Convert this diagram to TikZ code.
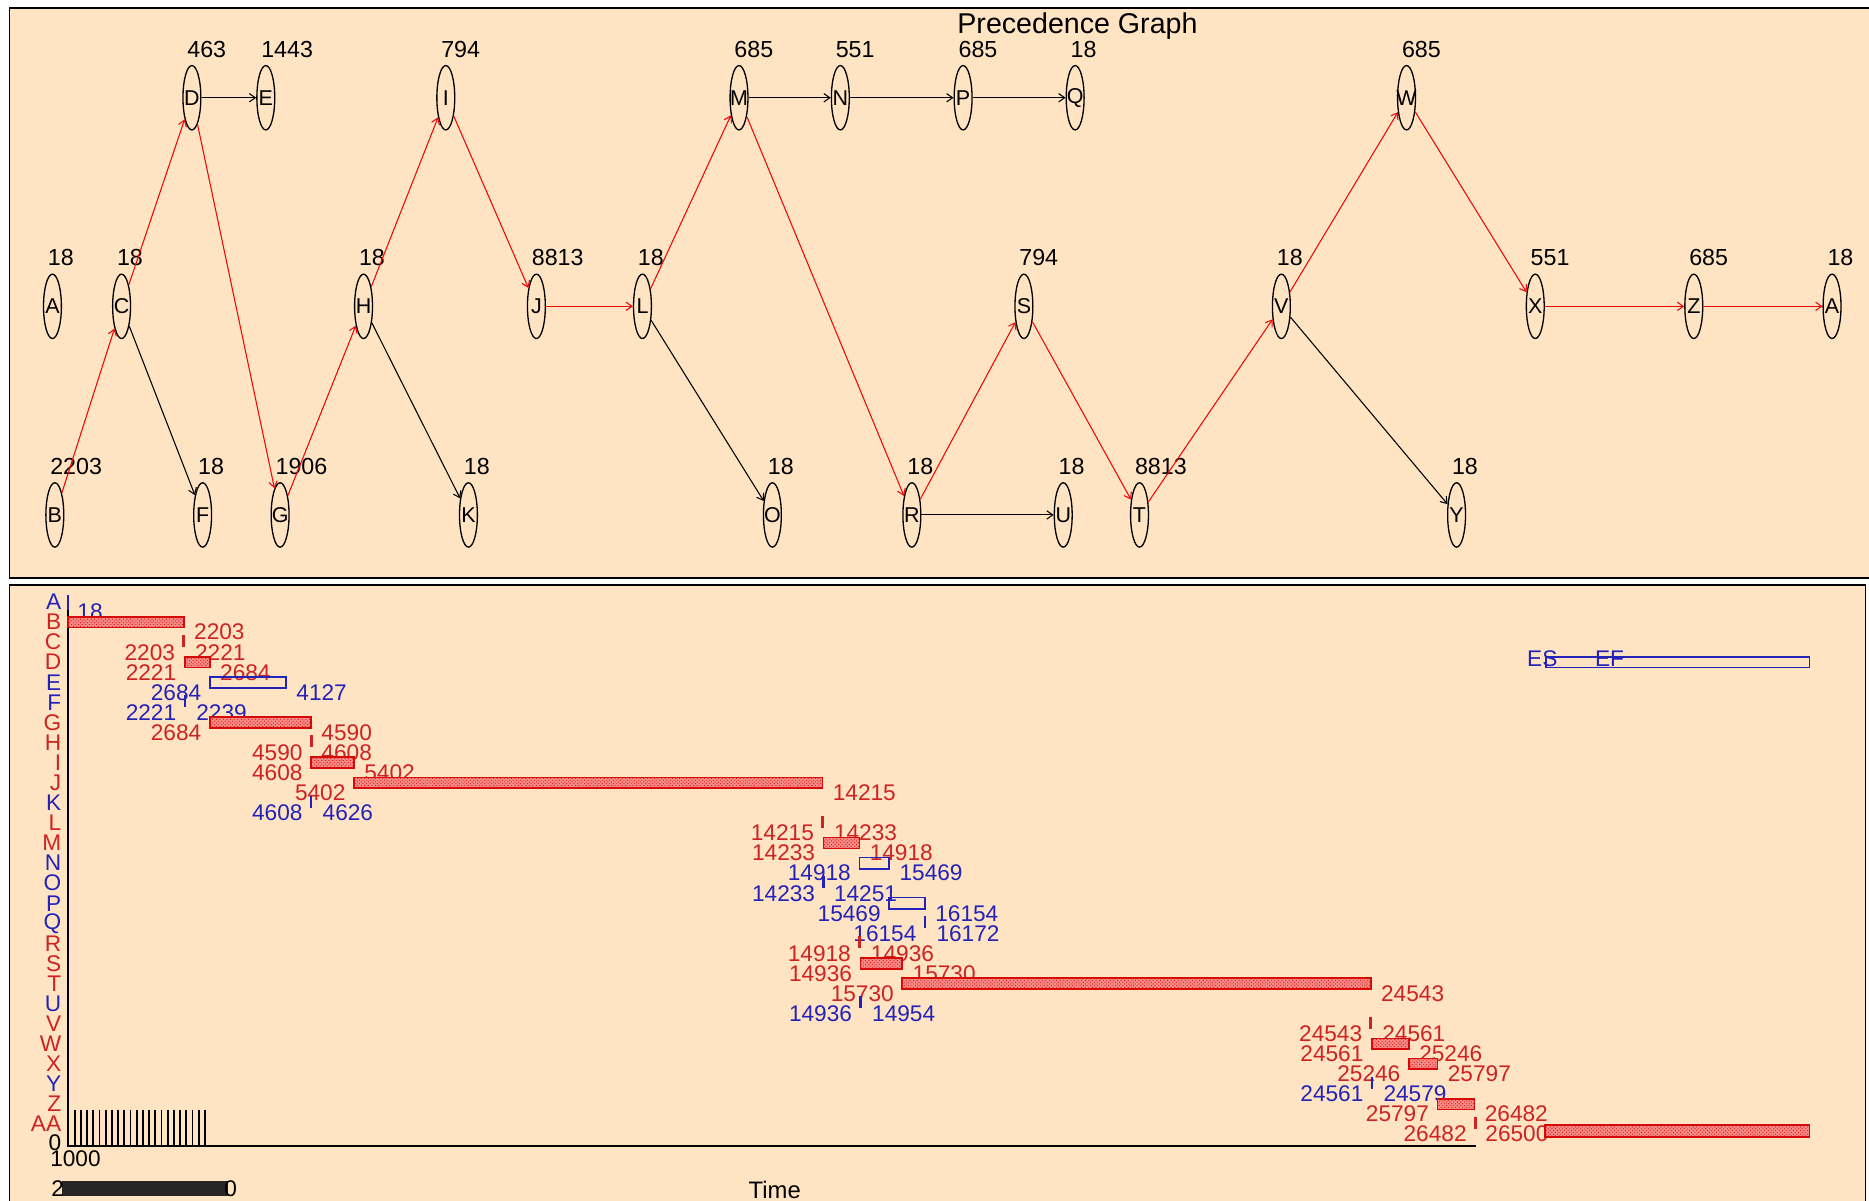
\documentclass[tikz,border=0pt]{standalone}
\usepackage{fontspec}
\setmainfont{Liberation Sans}
\usetikzlibrary{shapes.geometric,arrows.meta,patterns}
\definecolor{bgc}{RGB}{255,228,196}
\definecolor{gred}{RGB}{205,35,35}
\definecolor{gblue}{RGB}{35,35,185}
\definecolor{ered}{RGB}{235,10,10}
\definecolor{barfill}{RGB}{245,140,135}
\definecolor{barline}{RGB}{215,10,10}
\begin{document}
\begin{tikzpicture}[x=1pt,y=-1pt,
  nd/.style={ellipse, draw=black, line width=1.1pt, minimum width=15pt, minimum height=54pt, inner sep=0pt,
    label={[font=\fontsize{18}{20}\selectfont, inner sep=0pt, text=black]center:#1}},
  dur/.style={font=\fontsize{19.5}{21}\selectfont, anchor=base west, inner sep=0pt},
  redge/.style={draw=ered, line width=0.9pt, -{Straight Barb[length=5pt,width=7pt]}},
  bedge/.style={draw=black, line width=0.9pt, -{Straight Barb[length=5pt,width=7pt]}},
  gl/.style={font=\fontsize{19}{21}\selectfont, inner sep=0pt},
  rowl/.style={font=\fontsize{19}{21}\selectfont, inner sep=0pt, anchor=east},
  rbar/.style={fill=barfill, draw=barline, line width=1.4pt,
    postaction={pattern=crosshatch dots, pattern color=barline}},
  bbox/.style={draw=gblue, line width=1.5pt},
]
\useasboundingbox (0,0) rectangle (1568,1007);
\clip (0,0) rectangle (1568,1007);
\fill[white] (0,0) rectangle (1568,1007);
% panels
\filldraw[fill=bgc, draw=black, line width=1.5pt] (8,7) rectangle (1590,485);
\filldraw[fill=bgc, draw=black, line width=1.5pt] (8,491) rectangle (1565,1030);

% ---------------- precedence graph ----------------
\node[font=\fontsize{24}{26}\selectfont, anchor=base west, inner sep=0pt] (title) at (803,28) {Precedence Graph};

\newcommand\gnode[4]{\node[nd=#4] (#1) at (#2) {}; \node[dur] (l#1) at ([shift={(-4,-34)}]#1.center) {#3};}
\gnode{D}{161,82}{463}{D}
\gnode{E}{223,82}{1443}{E}
\gnode{I}{374,82}{794}{I}
\gnode{M}{620,82}{685}{M}
\gnode{N}{705,82}{551}{N}
\gnode{P}{808,82}{685}{P}
\gnode{Q}{902,82}{18}{Q}
\gnode{W}{1180,82}{685}{W}
\gnode{A}{44,257}{18}{A}
\gnode{C}{102,257}{18}{C}
\gnode{H}{305,257}{18}{H}
\gnode{J}{450,257}{8813}{J}
\gnode{L}{539,257}{18}{L}
\gnode{S}{859,257}{794}{S}
\gnode{V}{1075,257}{18}{V}
\gnode{X}{1288,257}{551}{X}
\gnode{Z}{1421,257}{685}{Z}
\gnode{AA}{1537,257}{18}{A}
\gnode{B}{46,432}{2203}{B}
\gnode{F}{170,432}{18}{F}
\gnode{G}{235,432}{1906}{G}
\gnode{K}{393,432}{18}{K}
\gnode{O}{648,432}{18}{O}
\gnode{R}{765,432}{18}{R}
\gnode{U}{892,432}{18}{U}
\gnode{T}{956,432}{8813}{T}
\gnode{Y}{1222,432}{18}{Y}

% critical edges
\foreach \a/\b in {B/C, C/D, D/G, G/H, H/I, I/J, J/L, L/M, M/R, R/S, S/T, T/V, V/W, W/X, X/Z, Z/AA}
  \draw[redge] (\a) -- (\b);
% other edges
\foreach \a/\b in {D/E, C/F, H/K, M/N, N/P, P/Q, L/O, R/U, V/Y}
  \draw[bedge] (\a) -- (\b);

% ---------------- Gantt chart ----------------
% row letters
\foreach \l/\c [count=\i from 0] in {A/gblue, B/gred, C/gred, D/gred, E/gblue, F/gblue, G/gred, H/gred, I/gred, J/gred, K/gblue, L/gred, M/gred, N/gblue, O/gblue, P/gblue, Q/gblue, R/gred, S/gred, T/gred, U/gblue, V/gred, W/gred, X/gred, Y/gblue, Z/gred, AA/gred}
  \node[rowl, text=\c] (row\i) at (51.5,{505+16.85*\i}) {\l};

% axes
\coordinate (origin) at (57,961.5);
\coordinate (ytop) at (57,499);
\coordinate (xend) at (1238,961.5);
\draw[line width=1.5pt] (ytop) -- (origin) -- (xend);
\foreach \i in {0,...,22}
  \draw[line width=1.4pt] ({57.5+5.2*\i},931) -- ({57.5+5.2*\i},961);
\node[gl, anchor=center] (zero) at (46,959) {0};
\node[gl, anchor=west] (thou) at (42,972.5) {1000};
\fill[black!85] (52,991) rectangle (191,1003);
\node[gl, anchor=west] (two) at (43,997) {2};
\node[gl, anchor=east] (zr) at (199,997) {0};
\node[font=\fontsize{20}{22}\selectfont, inner sep=0pt] (time) at (650,998) {Time};

% row A
\fill[gblue] (55.8,499) rectangle (57.8,512);
\node[gl, text=gblue, anchor=base west] (fA) at (64.8,520) {18};
% row B
\filldraw[rbar] (56.8,517.4) rectangle (154.2,526.4);
\node[gl, text=gred, anchor=base west] (fB) at (162.7,536.9) {2203};

\foreach \r/\s/\f/\k in {2/2203/2221/2, 3/2221/2684/1, 4/2684/4127/3, 5/2221/2239/4, 6/2684/4590/1, 7/4590/4608/2, 8/4608/5402/1, 9/5402/14215/1, 10/4608/4626/4, 11/14215/14233/2, 12/14233/14918/1, 13/14918/15469/3, 14/14233/14251/4, 15/15469/16154/3, 16/16154/16172/4, 17/14918/14936/2, 18/14936/15730/1, 19/15730/24543/1, 20/14936/14954/4, 21/24543/24561/2, 22/24561/25246/1, 23/25246/25797/1, 24/24561/24579/4, 25/25797/26482/1}{
  \edef\xs{\the\numexpr 56+\s*4459/100000\relax}
  \edef\xf{\the\numexpr 56+\f*4459/100000\relax}
  \pgfmathsetmacro\yy{505+16.85*\r}
  \ifnum\k<3 \def\tc{gred}\else\def\tc{gblue}\fi
  \ifnum\k=1 \filldraw[rbar] (\xs,{\yy-4.5}) rectangle (\xf,{\yy+4.5});\fi
  \ifnum\k=2 \fill[gred] ({\xs-1.3},{\yy-6}) rectangle ({\xs+1.3},{\yy+4});\fi
  \ifnum\k=3 \draw[bbox] (\xs,{\yy-4.75}) rectangle (\xf,{\yy+4.75});\fi
  \ifnum\k=4 \fill[gblue] ({\xs-1},{\yy-6}) rectangle ({\xs+1},{\yy+4});\fi
  \node[gl, text=\tc, anchor=base east] at ({\xs-7},{\yy+15}) {\s};
  \node[gl, text=\tc, anchor=base west] at ({\xf+8.5},{\yy+15}) {\f};
}
% row AA
\fill[gred] (1236.4,937) rectangle (1238.8,947);
\node[gl, text=gred, anchor=base east] (sAA) at (1230.6,958) {26482};
\node[gl, text=gred, anchor=base west] (fAA) at (1246,958) {26500};
\filldraw[rbar] (1296,944) rectangle (1518,954);

% legend
\node[gl, text=gblue, anchor=base west] (es) at (1281,559.5) {ES};
\node[gl, text=gblue, anchor=base west] (ef) at (1338,559.5) {EF};
\draw[bbox] (1297,551) rectangle (1518,560);
\end{tikzpicture}
\end{document}
